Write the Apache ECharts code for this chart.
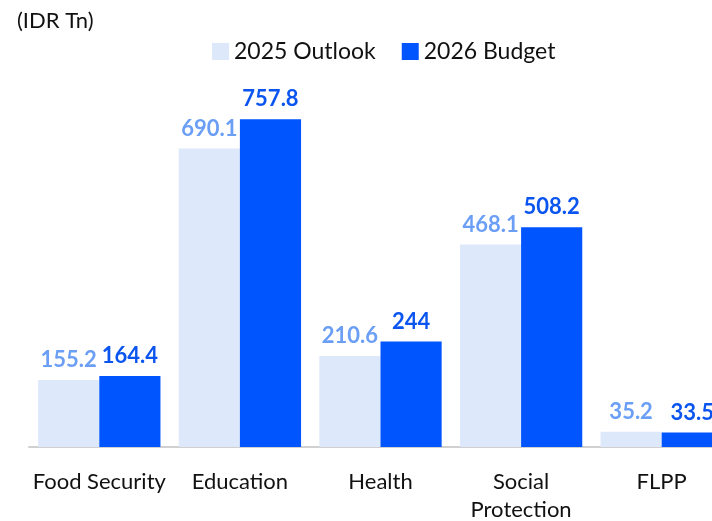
<!DOCTYPE html>
<html><head><meta charset="utf-8">
<script src="https://cdn.jsdelivr.net/npm/echarts@6/dist/echarts.min.js"></script>
<style>html,body{margin:0;padding:0;background:#fff;overflow:hidden}#c{width:712px;height:521px}</style>
</head><body><div id="c"></div>
<script>
const categories = ['Food Security', 'Education', 'Health', 'Social\nProtection', 'FLPP'];
const outlook2025 = [155.2, 690.1, 210.6, 468.1, 35.2];
const budget2026 = [164.4, 757.8, 244, 508.2, 33.5];
const seriesNames = ['2025 Outlook', '2026 Budget'];
const unitLabel = '(IDR Tn)';

const font = 'Lato, "Open Sans", sans-serif';
const chart = echarts.init(document.getElementById('c'));
chart.setOption({
  animation: false,
  title: { text: unitLabel, left: 12, top: 5, textStyle: { fontFamily: font, fontSize: 22, fontWeight: 'normal', color: '#111' } },
  legend: {
    data: seriesNames, left: 207, top: 35, itemWidth: 17, itemHeight: 17, itemGap: 26,
    icon: 'rect',
    textStyle: { fontFamily: font, fontSize: 23, color: '#111' }
  },
  grid: { left: 29, width: 703, top: 101, bottom: 74, containLabel: false, outerBoundsMode: 'none' },
  xAxis: {
    type: 'category', data: categories,
    axisLine: { lineStyle: { color: '#d0d0d0', width: 2 } },
    axisTick: { show: false },
    axisLabel: { fontFamily: font, fontSize: 22, color: '#111', margin: 21, lineHeight: 28, interval: 0 }
  },
  yAxis: { type: 'value', min: 0, max: 800, show: false, splitLine: { show: false } },
  series: [
    {
      name: seriesNames[0], type: 'bar', data: outlook2025, barGap: '0%', barCategoryGap: '13%',
      itemStyle: { color: '#dde8fb' },
      label: { show: true, position: 'top', distance: 9, fontFamily: font, fontSize: 22, fontWeight: 'bold', color: '#6b9ef5' }
    },
    {
      name: seriesNames[1], type: 'bar', data: budget2026, barGap: '0%', barCategoryGap: '13%',
      itemStyle: { color: '#0055ff' },
      label: { show: true, position: 'top', distance: 9, fontFamily: font, fontSize: 22, fontWeight: 'bold', color: '#0a55f0' }
    }
  ]
});
</script></body></html>
